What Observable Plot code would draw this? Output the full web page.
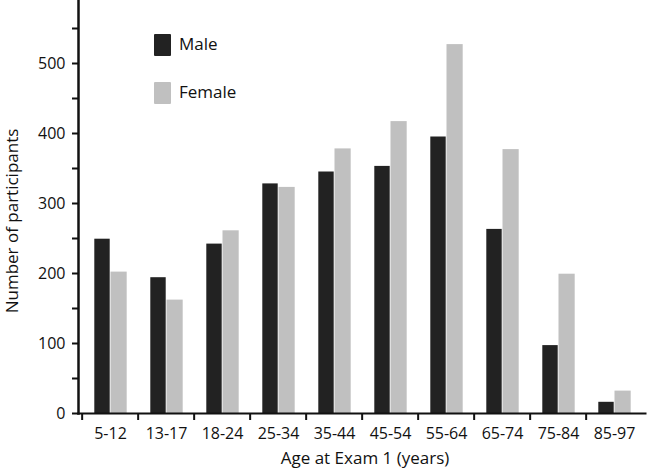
<!DOCTYPE html>
<html>
<head>
<meta charset="utf-8">
<script src="https://cdn.jsdelivr.net/npm/d3@7"></script>
<script src="https://cdn.jsdelivr.net/npm/@observablehq/plot@0.6"></script>
<style>
  html, body { margin: 0; padding: 0; background: #fff; }
  #wrap { position: relative; width: 647px; height: 474px; font-family: "Open Sans", Lato, sans-serif; }
  .leg { position: absolute; display: flex; align-items: center; font-size: 17px; color: #111; line-height: 1; }
  .sw { width: 17px; height: 22px; margin-right: 8px; border-radius: 1px; }
</style>
</head>
<body>
<div id="wrap"></div>
<script>
const ages = ["5-12", "13-17", "18-24", "25-34", "35-44", "45-54", "55-64", "65-74", "75-84", "85-97"];
const male = [249, 194, 242, 328, 345, 353, 395, 263, 97, 16];
const female = [202, 162, 261, 323, 378, 417, 527, 377, 199, 32];
const yTicks = [0, 100, 200, 300, 400, 500];
const yMinorTicks = [50, 150, 250, 350, 450, 550];
const seriesNames = ["Male", "Female"];
const seriesColors = ["#222222", "#c0c0c0"];

const data = ages.map((a, i) => ({age: a, male: male[i], female: female[i]}));

const chart = Plot.plot({
  width: 647,
  height: 474,
  marginLeft: 78,
  marginRight: 2,
  marginTop: 0,
  marginBottom: 61,
  x: {domain: ages, padding: 0},
  y: {domain: [0, 590]},
  style: {fontFamily: "'Open Sans', Lato, sans-serif", fontSize: "16px", color: "#111", background: "#fff"},
  marks: [
    Plot.barY(data, {x: "age", y: "male", fill: seriesColors[0], insetLeft: 12.3, insetRight: 28.3}),
    Plot.barY(data, {x: "age", y: "female", fill: seriesColors[1], insetLeft: 28.5, insetRight: 11.3}),
    Plot.axisY({ticks: yTicks, tickSize: 6, text: null, strokeWidth: 2, label: null}),
    Plot.axisY({ticks: yMinorTicks, tickSize: 6, text: null, strokeWidth: 2, label: null}),
    Plot.axisX({ticks: ages, tickSize: 7, text: null, dx: -28.35, strokeWidth: 2, label: null}),
    Plot.text(yTicks, {y: d => d, text: d => String(d), frameAnchor: "left", textAnchor: "end", dx: -13, fontSize: 16, fill: "#111"}),
    Plot.text(ages, {x: d => d, text: d => d, frameAnchor: "bottom", dy: 25, fontSize: 16, fill: "#111"}),
    Plot.frame({anchor: "left", strokeWidth: 2.5}),
    Plot.frame({anchor: "bottom", strokeWidth: 2}),
    Plot.text(["Number of participants"], {text: d => d, frameAnchor: "left", textAnchor: "middle", rotate: -90, dx: -66, dy: 14, fontSize: 17, fill: "#111"}),
    Plot.text(["Age at Exam 1 (years)"], {text: d => d, frameAnchor: "bottom", dx: 3, dy: 50, fontSize: 17, fill: "#111"})
  ]
});

const wrap = document.getElementById("wrap");
wrap.appendChild(chart);
const legTops = [34, 82];
seriesNames.forEach((name, i) => {
  const d = document.createElement("div");
  d.className = "leg";
  d.style.left = "154px";
  d.style.top = legTops[i] + "px";
  const sw = document.createElement("div");
  sw.className = "sw";
  sw.style.background = seriesColors[i];
  const t = document.createElement("span");
  t.textContent = name;
  t.style.marginTop = "-4px";
  d.appendChild(sw);
  d.appendChild(t);
  wrap.appendChild(d);
});
</script>
</body>
</html>
